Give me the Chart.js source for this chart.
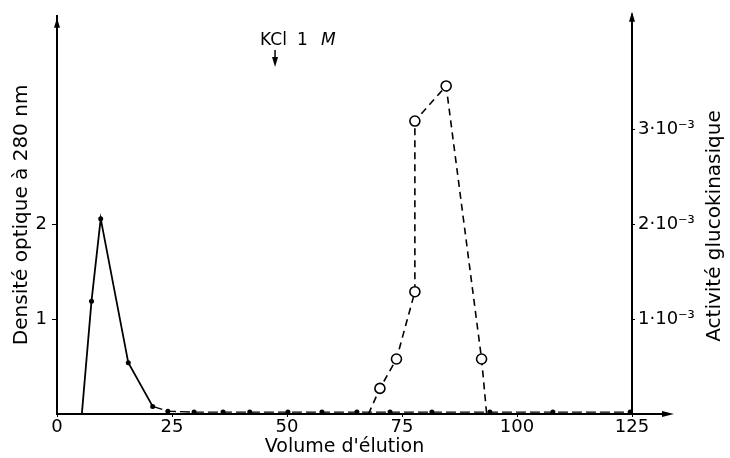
<!DOCTYPE html>
<html>
<head>
<meta charset="utf-8">
<script src="https://cdn.jsdelivr.net/npm/chart.js@4"></script>
<style>
  html, body { margin: 0; padding: 0; background: #fff; }
</style>
</head>
<body>
<canvas id="elutionChart" width="730" height="458"></canvas>
<script>
// Densité optique (points noirs, trait plein)
const volumeOD = [0, 5.4, 7.5, 9.5, 15.5, 20.8, 24.1, 29.8, 36.1, 41.9, 50.2, 57.6, 65.2, 72.4, 81.5, 94.1, 107.8, 124.6];
const densityOD = [0, 0, 1.19, 2.06, 0.54, 0.08, 0.03, 0.02, 0.02, 0.02, 0.02, 0.02, 0.02, 0.02, 0.02, 0.02, 0.02, 0.02];

// Activité glucokinasique (cercles, tirets)
const volumeAct = [67.7, 70.2, 73.8, 77.8, 77.8, 84.6, 92.3, 93.4];
const activity = [0, 0.00027, 0.00058, 0.00129, 0.00309, 0.00346, 0.00058, 0];

// graduations
const xTicks = [0, 25, 50, 75, 100, 125];
const odTicks = [1, 2];
const actTicks = [0.001, 0.002, 0.003];

const kclVolume = 47.4;

document.addEventListener('DOMContentLoaded', () => {
    const FONT = '"DejaVu Sans", sans-serif';
    const ctx = document.getElementById('elutionChart').getContext('2d');

    function arrowHead(c, x, y, dir) {
        // petite flèche pleine, dir: 'up' | 'down' | 'right'
        c.beginPath();
        if (dir === 'up') {
            c.moveTo(x, y); c.lineTo(x - 3, y + 10); c.lineTo(x + 3, y + 10);
        } else if (dir === 'down') {
            c.moveTo(x, y); c.lineTo(x - 3, y - 10); c.lineTo(x + 3, y - 10);
        } else {
            c.moveTo(x, y); c.lineTo(x - 12, y - 3); c.lineTo(x - 12, y + 3);
        }
        c.closePath();
        c.fill();
    }

    const extras = {
        id: 'extras',
        afterDraw(chart) {
            const c = chart.ctx;
            const a = chart.chartArea;
            const xs = chart.scales.x;
            c.save();
            c.fillStyle = '#000';
            c.strokeStyle = '#000';
            c.lineWidth = 2;

            // flèches des axes
            c.beginPath();
            c.moveTo(a.right, a.top);
            c.lineTo(a.right, a.top - 2);
            c.moveTo(a.right, a.bottom);
            c.lineTo(a.right + 38, a.bottom);
            c.stroke();
            arrowHead(c, a.left, a.top + 2, 'up');
            arrowHead(c, a.right, a.top - 4, 'up');
            arrowHead(c, a.right + 42, a.bottom, 'right');

            // titre de l'axe de droite
            c.font = '20px ' + FONT;
            c.textAlign = 'center';
            c.textBaseline = 'middle';
            c.translate(715, 226);
            c.rotate(-Math.PI / 2);
            c.fillText('Activité glucokinasique', 0, 0);
            c.setTransform(1, 0, 0, 1, 0, 0);

            // KCl 1 M
            const kx = xs.getPixelForValue(kclVolume);
            c.textAlign = 'left';
            c.font = '17px ' + FONT;
            c.fillText('KCl', kx - 15, 41);
            c.fillText('1', kx + 22, 41);
            c.font = 'italic 17px ' + FONT;
            c.fillText('M', kx + 46, 41);
            c.lineWidth = 1.5;
            c.beginPath();
            c.moveTo(kx, 50);
            c.lineTo(kx, 60);
            c.stroke();
            arrowHead(c, kx, 67, 'down');
            c.restore();
        }
    };

    const tickFont = { family: FONT, size: 18 };
    const titleFont = { family: FONT, size: 20 };

    new Chart(ctx, {
        type: 'line',
        data: {
            datasets: [{
                label: 'Densité optique à 280 nm',
                data: volumeOD.map((v, i) => ({ x: v, y: densityOD[i] })),
                yAxisID: 'y',
                borderColor: '#000',
                borderWidth: 1.8,
                backgroundColor: '#000',
                pointRadius: c => (c.raw && c.raw.y === 0 ? 0 : 2.5),
                pointBorderWidth: 0,
                tension: 0,
                segment: {
                    borderDash: c => (c.p0.parsed.x >= 20 ? [10, 4] : undefined),
                    borderWidth: c => (c.p0.parsed.x >= 20 ? 1.4 : 1.8)
                }
            }, {
                label: 'Activité glucokinasique',
                data: volumeAct.map((v, i) => ({ x: v, y: activity[i] })),
                yAxisID: 'y2',
                borderColor: '#000',
                borderWidth: 1.6,
                borderDash: [7, 5],
                backgroundColor: '#fff',
                pointRadius: c => (c.raw && c.raw.y === 0 ? 0 : 5),
                pointBorderWidth: 1.6,
                pointBorderColor: '#000',
                pointBackgroundColor: '#fff',
                tension: 0
            }]
        },
        options: {
            responsive: false,
            animation: false,
            layout: { padding: { top: 15 } },
            plugins: {
                legend: { display: false },
                tooltip: { enabled: false }
            },
            scales: {
                x: {
                    type: 'linear',
                    min: 0,
                    max: 125,
                    afterBuildTicks: s => { s.ticks = xTicks.map(v => ({ value: v })); },
                    afterFit: s => { s.height = 44; },
                    grid: { drawOnChartArea: false, tickLength: 3, color: '#000' },
                    border: { color: '#000', width: 2 },
                    ticks: { color: '#000', font: tickFont, padding: 0, maxRotation: 0 },
                    title: {
                        display: true,
                        text: "Volume d'élution",
                        color: '#000',
                        font: { family: FONT, size: 19 },
                        padding: { top: 0, bottom: 0 }
                    }
                },
                y: {
                    position: 'left',
                    min: 0,
                    max: 4.2,
                    afterBuildTicks: s => { s.ticks = odTicks.map(v => ({ value: v })); },
                    afterFit: s => { s.width = 57; },
                    grid: { drawOnChartArea: false, tickLength: 5, color: '#000' },
                    border: { color: '#000', width: 2 },
                    ticks: { color: '#000', font: tickFont, padding: 5 },
                    title: {
                        display: true,
                        text: 'Densité optique à 280 nm',
                        color: '#000',
                        font: titleFont,
                        padding: { top: 10, bottom: 0 }
                    }
                },
                y2: {
                    position: 'right',
                    min: 0,
                    max: 0.0042,
                    afterBuildTicks: s => { s.ticks = actTicks.map(v => ({ value: v })); },
                    afterFit: s => { s.width = 98; },
                    grid: { drawOnChartArea: false, tickLength: 3, color: '#000' },
                    border: { color: '#000', width: 2 },
                    ticks: {
                        color: '#000',
                        font: tickFont,
                        padding: 3,
                        callback: v => Math.round(v * 1000) + '·10⁻³'
                    }
                }
            }
        },
        plugins: [extras]
    });
});
</script>
</body>
</html>
